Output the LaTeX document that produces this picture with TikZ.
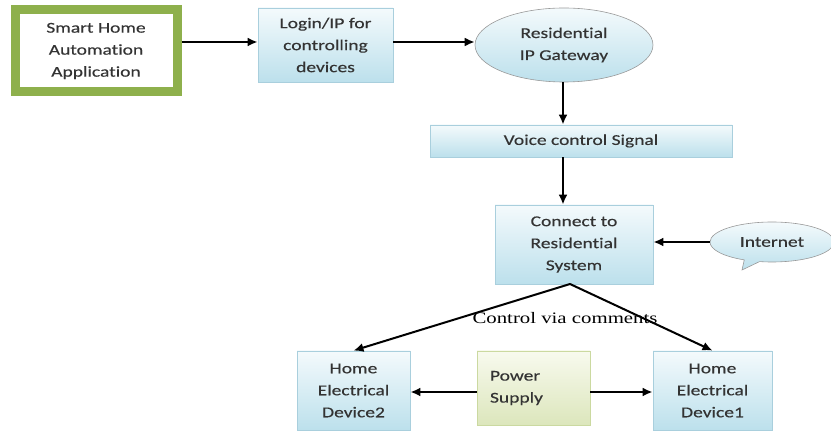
\documentclass[tikz,border=0pt]{standalone}
\usepackage{fontspec}
\setmainfont{Carlito}
\newfontfamily\lblfont[FakeStretch=1.3, FakeBold=0.3, Ligatures=NoCommon]{Carlito}
\newfontfamily\notefont[FakeStretch=1.3]{Liberation Serif}
\usetikzlibrary{arrows.meta,shapes.geometric,shapes.callouts}
\definecolor{boxline}{HTML}{A9CFDD}
\definecolor{boxtop}{HTML}{F4FAFC}
\definecolor{boxbot}{HTML}{BCE0EC}
\definecolor{appgreen}{HTML}{8EB04C}
\definecolor{psline}{HTML}{CBD9A0}
\definecolor{pstop}{HTML}{F8FAEE}
\definecolor{psbot}{HTML}{DCE6BC}
\definecolor{txt}{HTML}{333333}
\tikzset{
  x=1pt, y=-1pt,
  lbl/.style={font=\lblfont\fontsize{15}{22}\selectfont, text=txt, align=center},
  bluebox/.style={lbl, draw=boxline, line width=0.8pt, top color=boxtop, bottom color=boxbot, inner sep=0pt},
  psbox/.style={lbl, draw=psline, line width=0.8pt, top color=pstop, bottom color=psbot, inner sep=0pt},
  flow/.style={-{Latex[length=10pt,width=9pt]}, line width=2.6pt, black},
  branch/.style={-{Latex[length=10pt,width=9pt]}, line width=2pt, black}
}
\begin{document}
\begin{tikzpicture}
\useasboundingbox (0,0) rectangle (831,435);

% application box with thick green frame
\node[lbl, draw=appgreen, line width=9pt, fill=white, minimum width=162pt, minimum height=82pt, inner sep=0pt]
  (app) at (96,51) {Smart Home\\Automation\\Application};

\node[bluebox, minimum width=135pt, minimum height=74pt] (login) at (325.5,45) {Login/IP for\\controlling\\devices};

\node[lbl, ellipse, draw=gray!80, line width=0.6pt, top color=boxtop, bottom color=boxbot, minimum width=178pt, minimum height=74pt, inner sep=0pt]
  (gw) at (564,45) {Residential\\IP Gateway};

\node[bluebox, minimum width=302pt, minimum height=32pt] (voice) at (581,141) {Voice control Signal};

\node[bluebox, minimum width=158pt, minimum height=79pt] (conn) at (574,244.5) {Connect to\\Residential\\System};

\node[lbl, ellipse callout, draw=gray!80, line width=0.6pt, top color=boxtop, bottom color=boxbot, minimum width=124pt, minimum height=40pt,
      inner sep=0pt, callout absolute pointer={(742,270)}] (net) at (772,242) {Internet};

\node[bluebox, minimum width=113pt, minimum height=79pt] (dev2) at (353.5,390.5) {Home\\Electrical\\Device2};
\node[psbox, minimum width=113pt, minimum height=74pt, align=left, text width=87pt] (ps) at (533.5,388) {Power\\Supply};
\node[bluebox, minimum width=119pt, minimum height=79pt] (dev1) at (712.5,390.5) {Home\\Electrical\\Device1};

\coordinate (split) at (570,284);
\node[font=\notefont\fontsize{16}{18}\selectfont, text=black] (via) at (565,318) {Control via comments};

% connectors
\draw[flow] (app.east |- 0,42) -- (login.west |- 0,42);
\draw[flow] (login.east |- 0,42) -- (gw.west |- 0,42);
\draw[flow] (gw.south -| 563,0) -- (voice.north -| 563,0);
\draw[flow] (voice.south -| 563,0) -- (conn.north -| 563,0);
\draw[flow] (net.west) -- (conn.east |- net.west);
\draw[branch] (split) -- (dev2.north);
\draw[branch] (split) -- (dev1.north);
\draw[flow] (ps.west |- 0,392) -- (dev2.east |- 0,392);
\draw[flow] (ps.east |- 0,392) -- (dev1.west |- 0,392);
\end{tikzpicture}
\end{document}
